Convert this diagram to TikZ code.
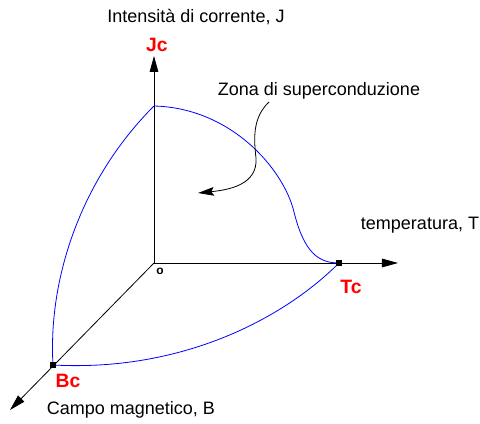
\documentclass[tikz,border=0pt]{standalone}
\usepackage{fontspec}
\setmainfont{Liberation Sans}
\usetikzlibrary{arrows.meta,positioning}
\newcommand{\tf}{\fontsize{13.5}{16}\selectfont}
\newcommand{\rf}{\fontsize{14.5}{16}\selectfont\bfseries}
\tikzset{
  axis/.style={black, line width=0.6pt, -{Triangle[length=12pt,width=6.5pt]}},
  crit/.style={blue, line width=0.6pt},
  lbl/.style={red, font=\rf},
  txt/.style={font=\tf},
  sq/.style={fill=black, minimum size=4.5pt, inner sep=0pt},
}

\begin{document}
\begin{tikzpicture}[x=0.75pt, y=-0.75pt, every node/.style={inner sep=0pt, outer sep=0pt}]
\useasboundingbox (0,0) rectangle (480,424);
% ---- axes
\coordinate (O) at (154,263);
\coordinate (Jtip) at (154,56);
\coordinate (Ttip) at (398,263);
\coordinate (Btip) at (10,410);
\draw[axis] (O) -- (Jtip);
\draw[axis] (O) -- (Ttip);
\draw[axis] (O) -- (Btip);
% ---- critical points
\coordinate (Jc) at (154,106);
\coordinate (Tc) at (339,263);
\coordinate (Bc) at (53,365);
% ---- critical surface boundary
\draw[crit] (Jc) .. controls (80,180) and (48,280) .. (Bc);
\draw[crit] (Jc) .. controls (232,108) and (284,170) .. (294,212)
  .. controls (304,252) and (318,263) .. (Tc);
\draw[crit] (Bc) .. controls (180,372) and (282,320) .. (Tc);
\node[sq] (mTc) at (Tc) {};
\node[sq] (mBc) at (Bc) {};
% ---- labels
\node[txt] (lJ) at (196,17) {Intensità di corrente, J};
\node[lbl] (lJc) at (157,45) {Jc};
\node[txt] (lT) at (420,225) {temperatura, T};
\node[lbl] (lTc) at (351,287) {Tc};
\node[lbl] (lBc) at (68,381) {Bc};
\node[txt] (lB) at (131,410) {Campo magnetico, B};
\node[font=\fontsize{9}{10}\selectfont\bfseries] (lO) at (160,271) {o};
% ---- zone annotation
\node[txt] (zona) at (319,91) {Zona di superconduzione};
\coordinate (zarr) at (198,193);
\draw[black, line width=0.6pt, -{Stealth[length=12pt,width=6.5pt,inset=2pt]}]
  (269,102) .. controls (252,118) and (254,140) .. (256,158)
  .. controls (258,185) and (228,190) .. (zarr);
\end{tikzpicture}
\end{document}
